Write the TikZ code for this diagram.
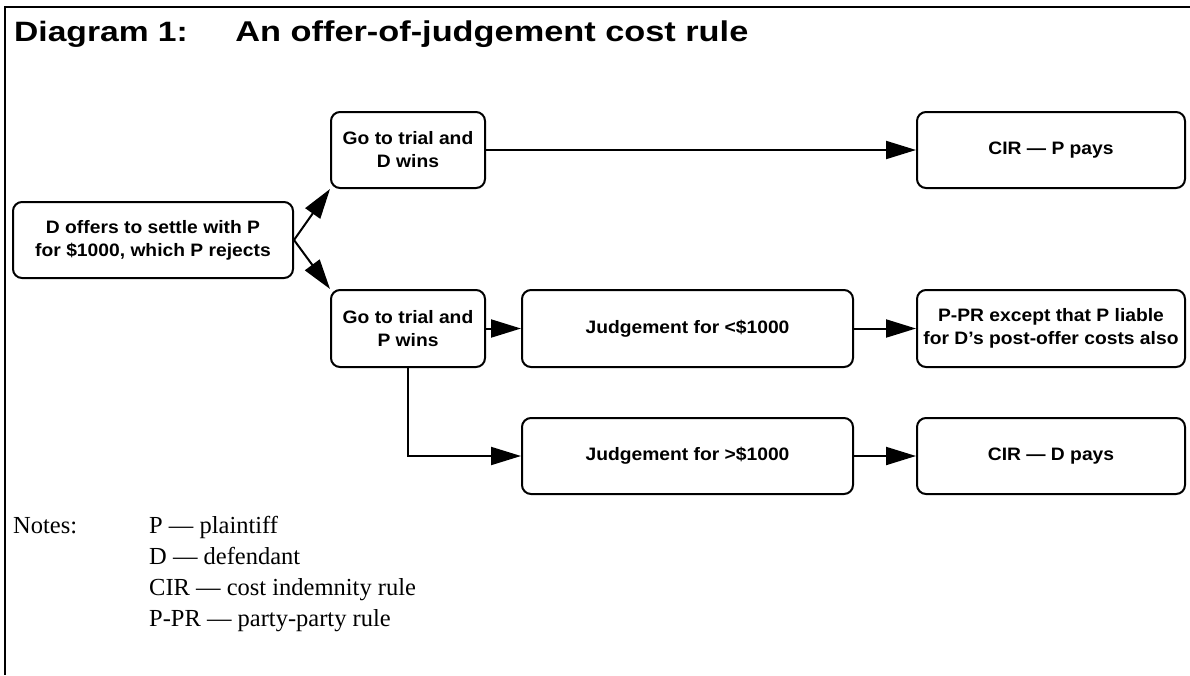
\documentclass[tikz,border=0pt]{standalone}
\usepackage{fontspec}
\setmainfont{Liberation Serif}
\newfontfamily\boxfont[FakeStretch=1.07]{Liberation Sans}
\newfontfamily\titlefont[FakeStretch=1.2]{Liberation Sans}
\usetikzlibrary{arrows.meta}
\begin{document}
\begin{tikzpicture}[x=1pt,y=-1pt,
  stepbox/.style={draw=black, line width=2pt, rounded corners=9pt, inner sep=0pt,
    align=center, font=\boxfont\bfseries\fontsize{18}{23}\selectfont},
  conn/.style={line width=2pt, -{Triangle[length=30pt,width=18pt]}},
  notetext/.style={anchor=base west, inner sep=0pt, font=\fontsize{24.5}{30}\selectfont}]
\useasboundingbox (0,0) rectangle (1190,675);
% frame
\draw[line width=2.2pt] (1190,7) -- (4.6,7) -- (4.6,675);
% title
\node[anchor=base west, inner sep=0pt, font=\titlefont\bfseries\fontsize{28}{34}\selectfont]
  (title) at (14,41) {Diagram 1:\hspace{1.7em}{\fontsize{28.6}{34}\selectfont An offer-of-judgement cost rule}};
% boxes
\node[stepbox, minimum width=280pt, minimum height=76pt] (start) at (153,240)
  {D offers to settle with P\\for \$1000, which P rejects};
\node[stepbox, minimum width=154pt, minimum height=76pt] (dwins) at (408,150)
  {Go to trial and\\D wins};
\node[stepbox, minimum width=268pt, minimum height=76pt] (cirp) at (1051,150)
  {CIR — P pays};
\node[stepbox, minimum width=154pt, minimum height=77pt] (pwins) at (408,328.5)
  {Go to trial and\\P wins};
\node[stepbox, minimum width=331pt, minimum height=77pt] (jlt) at (687.5,328.5)
  {Judgement for <\$1000};
\node[stepbox, minimum width=268pt, minimum height=77pt] (ppr) at (1051,328.5)
  {P-PR except that P liable\\for D’s post-offer costs also};
\node[stepbox, minimum width=331pt, minimum height=76pt] (jgt) at (687.5,456)
  {Judgement for >\$1000};
\node[stepbox, minimum width=268pt, minimum height=76pt] (cird) at (1051,456)
  {CIR — D pays};
% connectors
\draw[conn] (start.east) -- (dwins.south west);
\draw[conn] (start.east) -- (pwins.north west);
\draw[conn] (dwins.east) -- (cirp.west);
\draw[conn] (pwins.east) -- (jlt.west);
\draw[conn] (jlt.east) -- (ppr.west);
\draw[conn] (pwins.south) |- (jgt.west);
\draw[conn] (jgt.east) -- (cird.west);
% notes
\node[notetext] (notes) at (13,533) {Notes:};
\node[notetext] (n1) at (149,533) {P — plaintiff};
\node[notetext] (n2) at (149,564) {D — defendant};
\node[notetext] (n3) at (149,595) {CIR — cost indemnity rule};
\node[notetext] (n4) at (149,626) {P-PR — party-party rule};
\end{tikzpicture}
\end{document}
